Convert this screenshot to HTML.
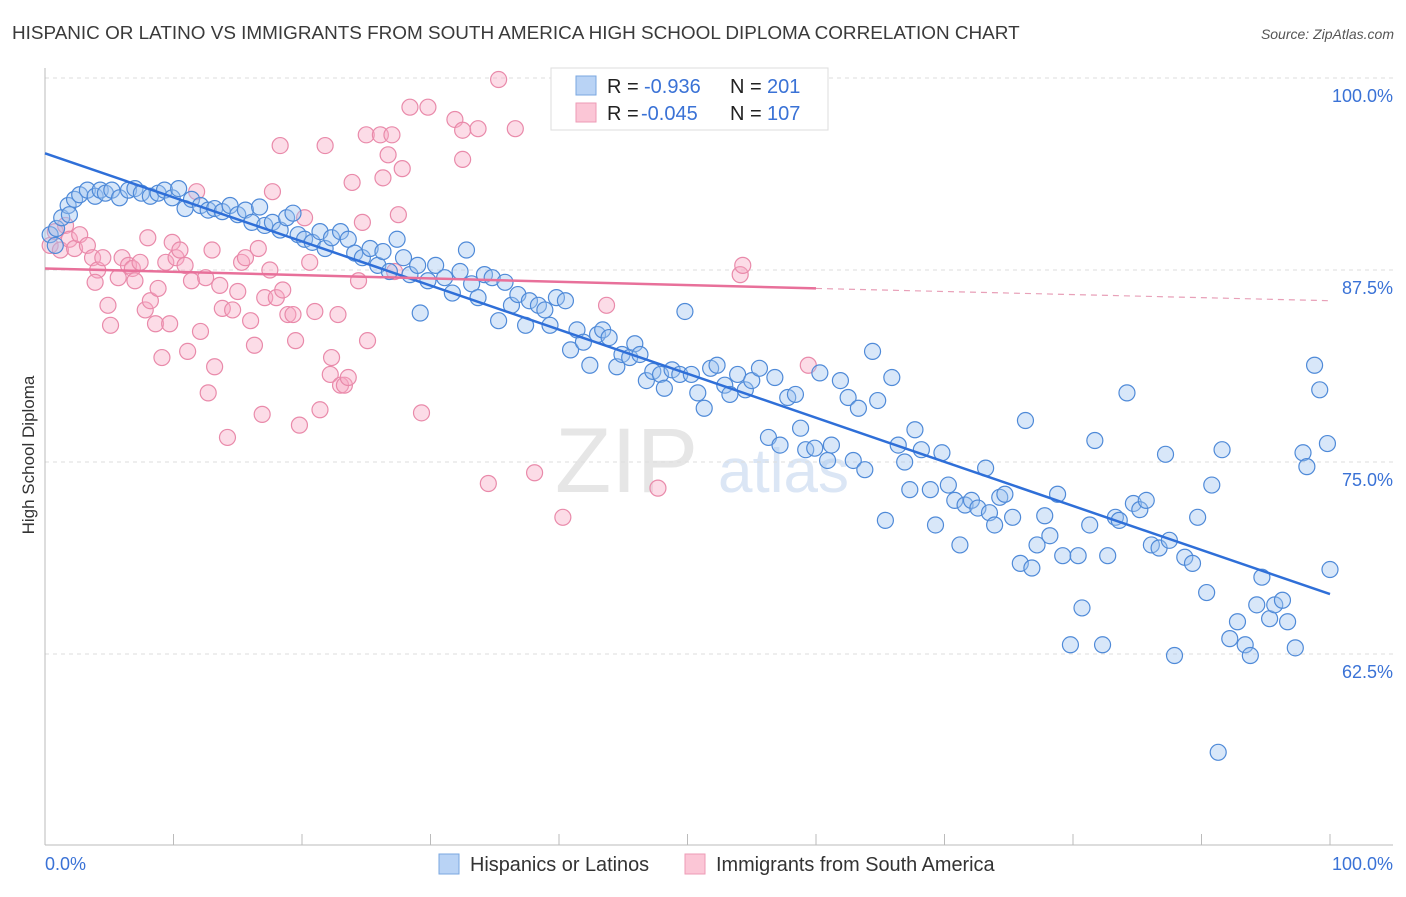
<!DOCTYPE html>
<html><head><meta charset="utf-8">
<style>
body{margin:0;background:#fff;font-family:"Liberation Sans",sans-serif;}
svg text{font-family:"Liberation Sans",sans-serif;}
</style></head>
<body>
<svg id="chart" width="1406" height="892" xmlns="http://www.w3.org/2000/svg">
<text x="12" y="39" font-size="18.9" fill="#3a3a3a">HISPANIC OR LATINO VS IMMIGRANTS FROM SOUTH AMERICA HIGH SCHOOL DIPLOMA CORRELATION CHART</text>
<text x="1394" y="39" font-size="14" font-style="italic" fill="#555" text-anchor="end">Source: ZipAtlas.com</text>
<text x="555" y="492" font-size="92" font-family="Liberation Serif" fill="#e6e6e6">ZIP</text>
<text x="718" y="492" font-size="62" fill="#dbe6f5">atlas</text>
<g id="grid"></g>
<g id="axes"></g>
<g id="pts"></g>
<g id="trends"></g>
<text transform="translate(34,455) rotate(-90)" font-size="17" fill="#333" text-anchor="middle">High School Diploma</text>
<g>
<rect x="551" y="68" width="277" height="62" fill="#fff" stroke="#ddd"/>
<rect x="576" y="76" width="20" height="19" fill="#b9d3f5" stroke="#7aa7e0"/>
<rect x="576" y="103" width="20" height="19" fill="#fbc6d6" stroke="#ee9bb6"/>
<text x="607" y="93" font-size="20" fill="#222">R = </text><text x="644" y="93" font-size="20" fill="#3a72d6">-0.936</text>
<text x="730" y="93" font-size="20" fill="#222">N = </text><text x="767" y="93" font-size="20" fill="#3a72d6">201</text>
<text x="607" y="120" font-size="20" fill="#222">R = </text><text x="641" y="120" font-size="20" fill="#3a72d6">-0.045</text>
<text x="730" y="120" font-size="20" fill="#222">N = </text><text x="767" y="120" font-size="20" fill="#3a72d6">107</text>
</g>
<g>
<rect x="439" y="854" width="20" height="20" fill="#b9d3f5" stroke="#7aa7e0"/>
<text x="470" y="871" font-size="19.9" fill="#333">Hispanics or Latinos</text>
<rect x="685" y="854" width="20" height="20" fill="#fbc6d6" stroke="#ee9bb6"/>
<text x="716" y="871" font-size="19.9" fill="#333">Immigrants from South America</text>
</g>
</svg>
<script>
const yTicks=[100,87.5,75,62.5];
const yTickLabels=["100.0%","87.5%","75.0%","62.5%"];
const xTickLabels=["0.0%","100.0%"];
const blueX=[0.4,0.8,0.9,1.3,1.8,1.9,2.3,2.7,3.3,3.9,4.3,4.7,5.2,5.8,6.5,7.0,7.5,8.2,8.8,9.3,9.9,10.4,10.9,11.4,12.1,12.7,13.2,13.8,14.4,15.0,15.6,16.1,16.7,17.1,17.7,18.3,18.8,19.3,19.7,20.2,20.8,21.4,21.8,22.3,23.0,23.6,24.1,24.7,25.3,25.9,26.3,26.8,27.4,27.9,28.4,29.0,29.2,29.8,30.4,31.1,31.7,32.3,32.8,33.2,33.7,34.2,34.8,35.3,35.8,36.3,36.8,37.4,37.7,38.4,38.9,39.3,39.8,40.5,40.9,41.4,41.9,42.4,43.0,43.4,43.9,44.5,44.9,45.5,45.9,46.3,46.8,47.3,47.9,48.2,48.8,49.4,49.8,50.3,50.8,51.3,51.8,52.3,52.9,53.3,53.9,54.5,55.0,55.6,56.3,56.8,57.2,57.8,58.4,58.8,59.2,59.9,60.3,60.9,61.2,61.9,62.5,62.9,63.3,63.8,64.4,64.8,65.4,65.9,66.4,66.9,67.3,67.7,68.2,68.9,69.3,69.8,70.3,70.8,71.2,71.6,72.1,72.6,73.2,73.5,73.9,74.3,74.7,75.3,75.9,76.3,76.8,77.2,77.8,78.2,78.8,79.2,79.8,80.4,80.7,81.3,81.7,82.3,82.7,83.3,83.6,84.2,84.7,85.2,85.7,86.1,86.7,87.2,87.5,87.9,88.7,89.3,89.7,90.4,90.8,91.3,91.6,92.2,92.8,93.4,93.8,94.3,94.7,95.3,95.7,96.3,96.7,97.3,97.9,98.2,98.8,99.2,99.8,100];
const blueY=[89.8,89.1,90.2,90.9,91.7,91.1,92.1,92.4,92.7,92.3,92.7,92.5,92.7,92.2,92.7,92.8,92.5,92.3,92.5,92.7,92.2,92.8,91.5,92.1,91.7,91.4,91.5,91.3,91.7,91.1,91.4,90.6,91.6,90.4,90.6,90.1,90.9,91.2,89.8,89.5,89.3,90.0,88.9,89.6,90.0,89.5,88.6,88.3,88.9,87.8,88.7,87.4,89.5,88.3,87.2,87.8,84.7,86.8,87.8,87.0,86.0,87.4,88.8,86.6,85.7,87.2,87.0,84.2,86.7,85.2,85.9,83.9,85.5,85.2,84.9,83.9,85.7,85.5,82.3,83.6,82.8,81.3,83.3,83.6,83.1,81.2,82.0,81.8,82.7,82.0,80.3,80.9,80.7,79.8,81.0,80.7,84.8,80.7,79.5,78.5,81.1,81.3,80.0,79.4,80.7,79.7,80.3,81.1,76.6,80.5,76.1,79.2,79.4,77.2,75.8,75.9,80.8,75.1,76.1,80.3,79.2,75.1,78.5,74.5,82.2,79.0,71.2,80.5,76.1,75.0,73.2,77.1,75.8,73.2,70.9,75.6,73.5,72.5,69.6,72.2,72.5,72.0,74.6,71.7,70.9,72.7,72.9,71.4,68.4,77.7,68.1,69.6,71.5,70.2,72.9,68.9,63.1,68.9,65.5,70.9,76.4,63.1,68.9,71.4,71.2,79.5,72.3,71.9,72.5,69.6,69.4,75.5,69.9,62.4,68.8,68.4,71.4,66.5,73.5,56.1,75.8,63.5,64.6,63.1,62.4,65.7,67.5,64.8,65.7,66.0,64.6,62.9,75.6,74.7,81.3,79.7,76.2,68.0];
const pinkX=[0.4,0.8,1.2,1.6,1.9,2.3,2.7,3.3,3.7,4.1,3.9,4.5,4.9,5.1,5.7,6.0,6.5,6.8,7.0,7.4,7.8,8.0,8.2,8.6,8.8,9.1,9.4,9.7,9.9,10.2,10.5,10.9,11.1,11.4,11.8,12.1,12.5,12.7,13.0,13.2,13.6,13.8,14.2,14.6,15.0,15.3,15.6,16.0,16.3,16.6,16.9,17.1,17.5,17.7,18.0,18.3,18.5,18.9,19.3,19.5,19.8,20.2,20.6,21.0,21.4,21.8,22.2,22.3,22.8,23.0,23.3,23.6,23.9,24.4,24.7,25.0,25.1,26.1,26.3,26.7,27.0,27.2,27.5,27.8,28.4,29.3,29.8,31.9,32.5,32.5,33.7,34.5,35.3,36.6,38.1,40.3,43.7,47.7,54.1,54.3,59.4];
const pinkY=[89.1,90.0,88.8,90.4,89.5,88.9,89.8,89.1,88.3,87.5,86.7,88.3,85.2,83.9,87.0,88.3,87.8,87.6,86.8,88.0,84.9,89.6,85.5,84.0,86.3,81.8,88.0,84.0,89.3,88.3,88.8,87.8,82.2,86.8,92.6,83.5,87.0,79.5,88.8,81.2,86.5,85.0,76.6,84.9,86.1,88.0,88.3,84.2,82.6,88.9,78.1,85.7,87.5,92.6,85.7,95.6,86.2,84.6,84.6,82.9,77.4,90.9,88.0,84.8,78.4,95.6,80.7,81.8,84.6,80.0,80.0,80.5,93.2,86.8,90.6,96.3,82.9,96.3,93.5,95.0,96.3,87.4,91.1,94.1,98.1,78.2,98.1,97.3,94.7,96.6,96.7,73.6,99.9,96.7,74.3,71.4,85.2,73.3,87.2,87.8,81.3];
const blueTrend=[[0,95.1],[100,66.4]];
const pinkTrend=[[0,87.6],[60,86.3],[100,85.5]];
const X0=45,X1=1330,YTOP=78,PXPER=192/12.5;
function sx(v){return X0+(X1-X0)*v/100;}
function sy(v){return YTOP+(100-v)*PXPER;}
const NS="http://www.w3.org/2000/svg";
function mk(t,a,p){const e=document.createElementNS(NS,t);for(const k in a)e.setAttribute(k,a[k]);p.appendChild(e);return e;}
const grid=document.getElementById('grid'),axes=document.getElementById('axes'),pts=document.getElementById('pts'),tr=document.getElementById('trends');
yTicks.forEach((v,i)=>{
 const l=mk('line',{x1:X0,x2:1393,y1:sy(v),y2:sy(v),stroke:'#ddd','stroke-dasharray':'4,4'},grid);
 
 
 const t=mk('text',{x:1393,y:sy(v)+24,'font-size':18,fill:'#3a72d6','text-anchor':'end'},axes);
 t.textContent=yTickLabels[i];
 
 
});
const ax=mk('line',{x1:X0,x2:X0,y1:68,y2:845,stroke:'#bbb'},axes);


const bx=mk('line',{x1:X0,x2:1393,y1:845,y2:845,stroke:'#bbb'},axes);


for(let i=0;i<=10;i++){const tk=mk('line',{x1:sx(i*10),x2:sx(i*10),y1:834,y2:845,stroke:'#bbb'},axes);
 
 }
[[0,'start',45],[100,'end',1393]].forEach((d,i)=>{const t=mk('text',{x:d[2],y:870,'font-size':18,fill:'#3a72d6','text-anchor':d[1]},axes);t.textContent=xTickLabels[i];
 
 });
function dots(xs,ys,fill,stroke,name){xs.forEach((x,i)=>{const c=mk('circle',{cx:sx(x),cy:sy(ys[i]),r:8,fill:fill,'fill-opacity':0.4,stroke:stroke,'stroke-width':1.2},pts);
 
 });}
dots(pinkX,pinkY,'#f7a8c2','#e98aaa','immigrant-point');
dots(blueX,blueY,'#9ec2f0','#4f8ad8','hispanic-point');
const bl=mk('line',{x1:sx(blueTrend[0][0]),y1:sy(blueTrend[0][1]),x2:sx(blueTrend[1][0]),y2:sy(blueTrend[1][1]),stroke:'#2f6fd8','stroke-width':2.5},tr);


const pl=mk('line',{x1:sx(pinkTrend[0][0]),y1:sy(pinkTrend[0][1]),x2:sx(pinkTrend[1][0]),y2:sy(pinkTrend[1][1]),stroke:'#e8709a','stroke-width':2.5},tr);


const pd=mk('line',{x1:sx(pinkTrend[1][0]),y1:sy(pinkTrend[1][1]),x2:sx(pinkTrend[2][0]),y2:sy(pinkTrend[2][1]),stroke:'#e8a0b8','stroke-width':1.2,'stroke-dasharray':'6,5'},tr);


</script>
</body></html>
